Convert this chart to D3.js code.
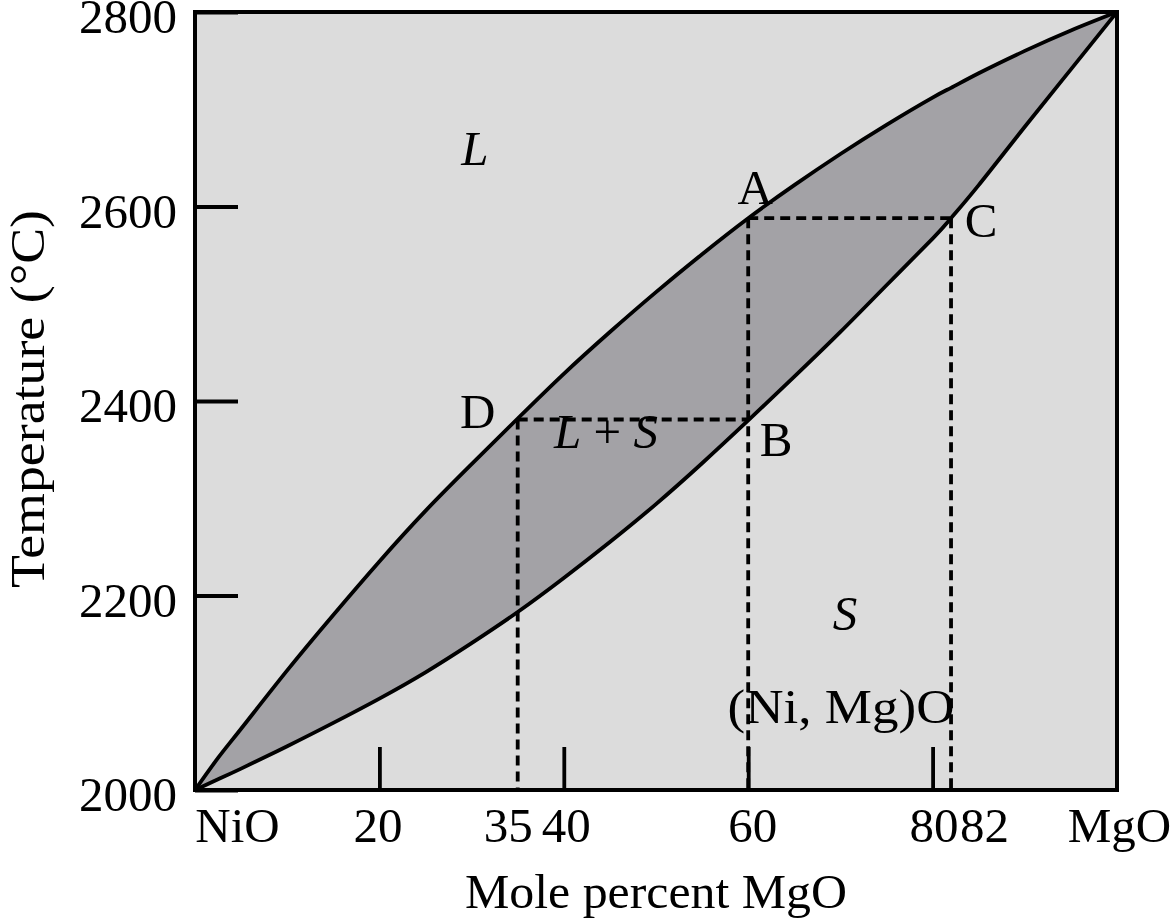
<!DOCTYPE html>
<html>
<head>
<meta charset="utf-8">
<script src="https://cdn.jsdelivr.net/npm/d3@7"></script>
<style>
  html, body { margin: 0; padding: 0; background: #ffffff; }
  svg { display: block; }
  text { font-family: "Liberation Serif", "Times New Roman", serif; fill: #000; }
</style>
</head>
<body>
<svg id="chart" width="1172" height="919"></svg>
<script>
// ---------- data ----------
// composition (mole % MgO) shared by both boundary curves
const compX = [0, 2.5, 5, 10, 15, 20, 25, 30, 35, 40, 45, 50, 55, 60, 65, 70, 75, 80, 82, 85, 90, 95, 100];
// liquidus temperature (°C)
const liquidusT = [2000, 2033, 2063, 2123, 2180, 2235, 2287, 2335, 2382, 2428, 2471, 2512, 2551, 2588, 2622, 2654, 2684, 2712, 2722, 2737, 2760, 2781, 2800];
// solidus temperature (°C)
const solidusT = [2000, 2011, 2022, 2045, 2069, 2094, 2121, 2151, 2183, 2218, 2255, 2294, 2336, 2380, 2425, 2471, 2519, 2567, 2588, 2622, 2682, 2741, 2800];

const tieT = [2381, 2588];            // D-B line and A-C line temperatures
const tieLeftX = [35, 60];            // D, A
const tieRightX = [60, 82];           // B, C
const dropX = [35, 60, 82];           // vertical dashed lines
const dropT = [2381, 2588, 2588];

const yTickValues = [2000, 2200, 2400, 2600, 2800];
const xTickMarks = [20, 40, 60, 80];
const xLabelValues = [0, 20, 35, 40, 60, 80, 82, 100];
const xLabelTexts = ["NiO", "20", "35", "40", "60", "80", "82", "MgO"];

const pointNames = ["A", "B", "C", "D"];
const pointX = [60, 60, 82, 35];
const pointT = [2588, 2381, 2588, 2381];

// ---------- layout ----------
const svg = d3.select("#chart");
const pL = 195, pR = 1117, pT = 12, pB = 790;
const x = d3.scaleLinear().domain([0, 100]).range([pL, pR]);
const y = d3.scaleLinear().domain([2000, 2800]).range([pB, pT]);
const FS = 49;
const FONT = "Liberation Serif, Times New Roman, serif";

// background of plot
svg.append("rect")
  .attr("x", pL).attr("y", pT)
  .attr("width", pR - pL).attr("height", pB - pT)
  .attr("fill", "#dcdcdc");

const rows = compX.map((d, i) => ({ x: d, liq: liquidusT[i], sol: solidusT[i] }));
const curve = d3.curveNatural;

// two-phase fill
svg.append("path")
  .datum(rows)
  .attr("d", d3.area().curve(curve).x(d => x(d.x)).y0(d => y(d.sol)).y1(d => y(d.liq)))
  .attr("fill", "#a3a2a6").attr("stroke", "none");

// dashed tie lines
const dash = "10,6";
const DW = 3.8;
tieT.forEach((t, i) => {
  svg.append("line")
    .attr("x1", x(tieLeftX[i])).attr("x2", x(tieRightX[i]))
    .attr("y1", y(t)).attr("y2", y(t))
    .attr("stroke", "#000").attr("stroke-width", DW).attr("stroke-dasharray", dash);
});
dropX.forEach((v, i) => {
  svg.append("line")
    .attr("x1", x(v)).attr("x2", x(v))
    .attr("y1", y(dropT[i])).attr("y2", y(2000))
    .attr("stroke", "#000").attr("stroke-width", DW).attr("stroke-dasharray", dash);
});

// curves
svg.append("path").datum(rows)
  .attr("d", d3.line().curve(curve).x(d => x(d.x)).y(d => y(d.liq)))
  .attr("fill", "none").attr("stroke", "#000").attr("stroke-width", 3.8);
svg.append("path").datum(rows)
  .attr("d", d3.line().curve(curve).x(d => x(d.x)).y(d => y(d.sol)))
  .attr("fill", "none").attr("stroke", "#000").attr("stroke-width", 3.8);

// y axis (inside ticks)
const yAxis = d3.axisLeft(y).tickValues(yTickValues).tickSizeInner(-43).tickSizeOuter(0).tickPadding(18).tickFormat(d3.format("d"));
const gy = svg.append("g").attr("transform", `translate(${pL},0)`).call(yAxis);
gy.select(".domain").remove();
gy.selectAll(".tick line").attr("stroke", "#000").attr("stroke-width", 3.8);
gy.selectAll(".tick text").attr("font-size", FS).attr("font-family", FONT).attr("fill", "#000").attr("dy", "0.42em");

// x axis tick marks (inside)
const xAxisTicks = d3.axisBottom(x).tickValues(xTickMarks).tickSizeInner(-43).tickSizeOuter(0).tickFormat("");
const gxt = svg.append("g").attr("transform", `translate(0,${pB})`).call(xAxisTicks);
gxt.select(".domain").remove();
gxt.selectAll(".tick line").attr("stroke", "#000").attr("stroke-width", 3.8);

// x axis labels
const xLabelShift = {0: 42, 20: -2, 35: -10, 40: 2, 60: 4, 80: 1, 82: 33, 100: 2};
const xAxisLabels = d3.axisBottom(x).tickValues(xLabelValues).tickSize(0).tickPadding(17)
  .tickFormat((d) => xLabelTexts[xLabelValues.indexOf(d)]);
const gxl = svg.append("g").attr("transform", `translate(0,${pB})`).call(xAxisLabels);
gxl.select(".domain").remove();
gxl.selectAll(".tick text")
  .attr("font-size", FS).attr("font-family", FONT).attr("fill", "#000")
  .attr("dx", (d) => xLabelShift[d] || 0);

// frame
svg.append("rect")
  .attr("x", pL).attr("y", pT)
  .attr("width", pR - pL).attr("height", pB - pT)
  .attr("fill", "none").attr("stroke", "#000").attr("stroke-width", 4);

// axis titles
svg.append("text")
  .attr("x", 656).attr("y", 908)
  .attr("text-anchor", "middle").attr("font-size", FS)
  .attr("textLength", 382).attr("lengthAdjust", "spacingAndGlyphs")
  .text("Mole percent MgO");
svg.append("text")
  .attr("transform", "translate(44,399) rotate(-90)")
  .attr("text-anchor", "middle").attr("font-size", FS)
  .attr("textLength", 378).attr("lengthAdjust", "spacingAndGlyphs")
  .text("Temperature (°C)");

// region labels
svg.append("text").attr("x", 475).attr("y", 165).attr("text-anchor", "middle")
  .attr("font-size", FS).attr("font-style", "italic").text("L");
const ls = svg.append("text").attr("x", 606).attr("y", 448).attr("text-anchor", "middle").attr("font-size", FS);
ls.append("tspan").attr("font-style", "italic").text("L");
ls.append("tspan").text(" + ");
ls.append("tspan").attr("font-style", "italic").text("S");
svg.append("text").attr("x", 845).attr("y", 630).attr("text-anchor", "middle")
  .attr("font-size", FS).attr("font-style", "italic").text("S");
svg.append("text").attr("x", 841).attr("y", 723).attr("text-anchor", "middle")
  .attr("font-size", FS).attr("textLength", 227).attr("lengthAdjust", "spacingAndGlyphs")
  .text("(Ni, Mg)O");

// point labels
const pointOffsets = {A: [7, -14], B: [28, 37], C: [30, 19], D: [-40, 9]};
pointNames.forEach((n, i) => {
  const o = pointOffsets[n];
  svg.append("text")
    .attr("x", x(pointX[i]) + o[0]).attr("y", y(pointT[i]) + o[1])
    .attr("text-anchor", "middle").attr("font-size", FS)
    .text(n);
});
</script>
</body>
</html>
